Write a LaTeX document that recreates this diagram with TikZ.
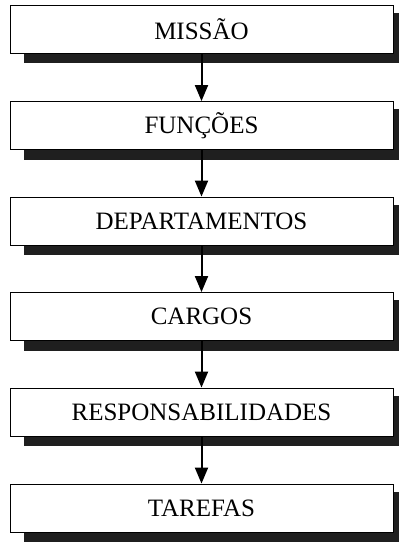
\documentclass[tikz,border=0pt]{standalone}
\usepackage{fontspec}
\setmainfont{Liberation Serif}
\usetikzlibrary{arrows.meta,backgrounds,calc}
\tikzset{
  stage/.style={draw=black, line width=0.9pt, fill=white, minimum width=383pt, minimum height=48pt, inner sep=0pt, font=\fontsize{25}{28}\selectfont},
  shadowfill/.style={fill=black!88},
  arr/.style={line width=2pt, -{Triangle[width=13pt,length=16pt]}}
}
\begin{document}
\begin{tikzpicture}[x=1pt,y=-1pt]
\useasboundingbox (0,0) rectangle (399,547);
\node[stage] (m) at (201.5,29) {MISSÃO};
\node[stage] (f) at (201.5,125.5) {FUNÇÕES};
\node[stage] (d) at (201.5,221) {DEPARTAMENTOS};
\node[stage] (c) at (201.5,316.5) {CARGOS};
\node[stage] (r) at (201.5,412) {RESPONSABILIDADES};
\node[stage] (t) at (201.5,508) {TAREFAS};
\begin{scope}[on background layer]
\foreach \n in {m,f,d,c,r,t}{
  \fill[shadowfill] ($(\n.south west)+(14,10)$) rectangle ($(\n.north east)+(6,8)$);
}
\end{scope}
\draw[arr] (m.south) -- (f.north);
\draw[arr] (f.south) -- (d.north);
\draw[arr] (d.south) -- (c.north);
\draw[arr] (c.south) -- (r.north);
\draw[arr] (r.south) -- (t.north);
\end{tikzpicture}
\end{document}
